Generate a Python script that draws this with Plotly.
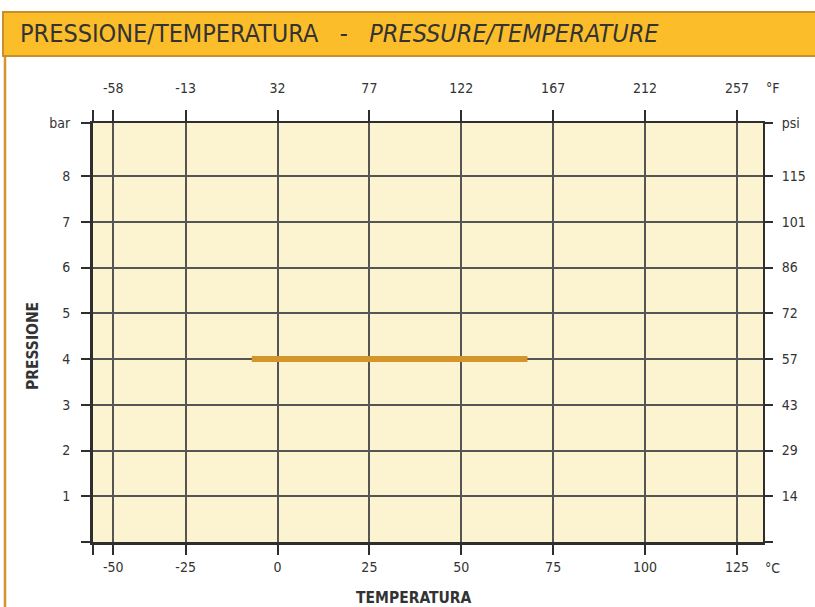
import plotly.graph_objects as go

# ---- data ----
temp_c_labels = ["-50", "-25", "0", "25", "50", "75", "100", "125"]
temp_c_pos = [-44.7, -25, 0, 25, 50, 75, 100, 125]   # original chart draws -50 offset
temp_f_labels = ["-58", "-13", "32", "77", "122", "167", "212", "257"]
bar_vals = [1, 2, 3, 4, 5, 6, 7, 8]
psi_labels = ["14", "29", "43", "57", "72", "86", "101", "115"]
line_temp = [-7, 68]
line_pressure = [4, 4]

X_RANGE = [-50.2, 132.1]
Y_RANGE = [0, 9.16]

FONT = "DejaVu Sans Condensed, Liberation Sans Narrow, sans-serif"
DARK = "#2e2e2e"
GRID = "#555555"
TXT = "#333333"
GOLD = "#D4952B"

fig = go.Figure()
fig.add_trace(go.Scatter(x=line_temp, y=line_pressure, mode="lines",
                         line=dict(color=GOLD, width=6), showlegend=False,
                         hoverinfo="skip"))
fig.add_trace(go.Scatter(x=line_temp, y=line_pressure, xaxis="x2", yaxis="y2",
                         mode="lines", line=dict(width=0), showlegend=False,
                         hoverinfo="skip", opacity=0))

common_x = dict(range=X_RANGE, showgrid=True, gridcolor=GRID, gridwidth=2,
                zeroline=False, ticks="outside", tickcolor=DARK, tickwidth=2,
                automargin=False,
                tickfont=dict(family=FONT, size=14, color=TXT))
fig.update_layout(
    width=815, height=607,
    margin=dict(l=93, r=52, t=123, b=65, autoexpand=False),
    paper_bgcolor="white", plot_bgcolor="#FCF3D0",
    font=dict(family=FONT, color=TXT),
    xaxis=dict(**common_x, side="bottom",
               tickvals=[X_RANGE[0]] + temp_c_pos, ticktext=[""] + temp_c_labels,
               ticklen=10, showline=True, linecolor=DARK, linewidth=3,
               ticklabelstandoff=0),
    xaxis2=dict(**common_x, side="top", overlaying="x",
                tickvals=[X_RANGE[0]] + temp_c_pos, ticktext=[""] + temp_f_labels,
                ticklen=11, showline=True, linecolor=DARK, linewidth=2,
                ticklabelstandoff=11),
    yaxis=dict(range=Y_RANGE, showgrid=True, gridcolor=GRID, gridwidth=2,
               zeroline=False, ticks="outside", tickcolor=DARK, tickwidth=2, ticklen=9,
               automargin=False,
               tickvals=[0] + bar_vals + [Y_RANGE[1]],
               ticktext=[""] + [str(v) for v in bar_vals] + ["bar"],
               tickfont=dict(family=FONT, size=14, color=TXT),
               showline=True, linecolor=DARK, linewidth=3, side="left",
               ticklabelstandoff=8),
    yaxis2=dict(range=Y_RANGE, overlaying="y", side="right", showgrid=False,
                zeroline=False, ticks="outside", tickcolor=DARK, tickwidth=2, ticklen=8,
                automargin=False,
                tickvals=[0] + bar_vals + [Y_RANGE[1]],
                ticktext=[""] + psi_labels + ["psi"],
                tickfont=dict(family=FONT, size=14, color=TXT),
                showline=True, linecolor=DARK, linewidth=2,
                ticklabelstandoff=6),
)

# left frame line of the panel
fig.add_shape(type="line", xref="paper", yref="paper",
              x0=(5 - 93) / 670, x1=(5 - 93) / 670,
              y0=(542 - 610) / 419, y1=(542 - 50) / 419,
              line=dict(color=GOLD, width=2.5), layer="above")
# title bar
fig.add_shape(type="rect", xref="paper", yref="paper",
              x0=(3 - 93) / 670, x1=(817 - 93) / 670,
              y0=(542 - 56) / 419, y1=(542 - 12) / 419,
              fillcolor="#FBBE2A", line=dict(color="#C98F2A", width=2), layer="above")
fig.add_annotation(xref="paper", yref="paper", x=(18 - 93) / 670, y=(542 - 34) / 419,
                   xanchor="left", yanchor="middle", showarrow=False,
                   text="PRESSIONE/TEMPERATURA&nbsp;&nbsp;&nbsp;-&nbsp;&nbsp;&nbsp;<i>PRESSURE/TEMPERATURE</i>",
                   font=dict(family=FONT, size=25, color=TXT))

# unit labels
fig.add_annotation(xref="paper", yref="paper", x=(764 - 93) / 670, y=(542 - 88) / 419,
                   xanchor="left", yanchor="middle",
                   text="°F", showarrow=False, font=dict(family=FONT, size=14, color=TXT))
fig.add_annotation(xref="paper", yref="paper", x=(763 - 93) / 670, y=(542 - 568) / 419,
                   xanchor="left", yanchor="middle",
                   text="°C", showarrow=False, font=dict(family=FONT, size=14, color=TXT))
# axis titles
fig.add_annotation(xref="paper", yref="paper", x=(414 - 93) / 670, y=(542 - 598) / 419,
                   xanchor="center", yanchor="middle",
                   text="<b>TEMPERATURA</b>", showarrow=False,
                   font=dict(family=FONT, size=15.5, color=TXT))
fig.add_annotation(xref="paper", yref="paper", x=(33 - 93) / 670, y=(542 - 346) / 419,
                   xanchor="center", yanchor="middle",
                   text="<b>PRESSIONE</b>", textangle=-90, showarrow=False,
                   font=dict(family=FONT, size=15.5, color=TXT))

fig.write_html("out.html", config={"displayModeBar": False},
               post_script="document.body.style.margin='0';")
